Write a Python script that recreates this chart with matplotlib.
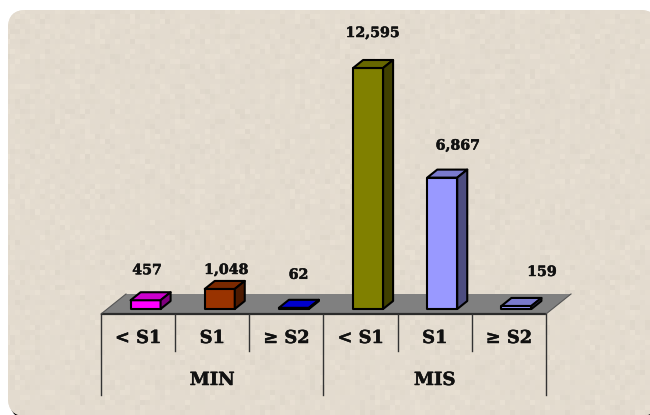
import numpy as np
import matplotlib
matplotlib.use("Agg")
import matplotlib.pyplot as plt
import matplotlib.patheffects as pe
from matplotlib.patches import FancyBboxPatch, Polygon

categories = ["< S1", "S1", "≥ S2", "< S1", "S1", "≥ S2"]
groups = ["MIN", "MIS"]
values = [457, 1048, 62, 12595, 6867, 159]
value_labels = ["457", "1,048", "62", "12,595", "6,867", "159"]
front_colors = ["#FF00FF", "#993300", "#0000CC", "#808000", "#9999FF", "#9999FF"]
top_colors = ["#CC00CC", "#7A2900", "#0000CC", "#666600", "#7A7ACC", "#7A7ACC"]
side_colors = ["#800080", "#4D1A00", "#000066", "#404000", "#4D4D80", "#4D4D80"]
label_offsets_px = [(1, 30), (6, 19), (4, 33), (4, 35), (15, 32), (25, 34)]

W, H = 650, 415
FONT = "DejaVu Serif"
heavy = [pe.withStroke(linewidth=0.35, foreground="#111111")]
fig = plt.figure(figsize=(W / 100, H / 100), dpi=100, facecolor="white")

# background card with a paper-like texture
bg = fig.add_axes([0, 0, 1, 1], zorder=0)
bg.set_xlim(0, W)
bg.set_ylim(H, 0)
bg.axis("off")
bg.add_patch(FancyBboxPatch((10, 13), 648, 406, boxstyle="round,pad=0,rounding_size=18",
                            fc="black", ec="none", zorder=0))
card = FancyBboxPatch((8, 10), 650, 406, boxstyle="round,pad=0,rounding_size=18",
                      fc="#E4DCCE", ec="none", zorder=0.5)
bg.add_patch(card)
yy, xx = np.mgrid[0:H // 5 + 1, 0:W // 5 + 1]
h = np.sin(xx * 12.9898 + yy * 78.233) * 43758.5453
h = h - np.floor(h)
tex = 0.893 + (h - 0.5) ** 3 * 0.16
im = bg.imshow(np.dstack([tex, tex * 0.965, tex * 0.91]), extent=(0, W + 5, H + 5, 0),
               interpolation="nearest", zorder=1, aspect="auto")
im.set_clip_path(card)
bg.set_xlim(0, W)
bg.set_ylim(H, 0)

# chart axes: x = category slots, y = values
x_left, x_right, y_base, y_top = 101, 546, 309, 68
ax = fig.add_axes([x_left / W, 1 - y_base / H, (x_right - x_left) / W, (y_base - y_top) / H], zorder=2)
ax.set_xlim(0, len(categories))
ax.set_ylim(0, max(values))
ax.axis("off")
px = len(categories) / (x_right - x_left)
py = max(values) / (y_base - y_top)

floor_front, floor_back = -5 * py, 15 * py
depth = 25 * px
ax.add_patch(Polygon([(0, floor_front), (len(categories), floor_front),
                      (len(categories) + depth, floor_back), (depth, floor_back)],
                     fc="#808080", ec="none", clip_on=False, zorder=1))
ax.plot([0, len(categories)], [floor_front, floor_front], color="#2B2B2B", lw=1.6,
        clip_on=False, zorder=2, solid_capstyle="butt")
ax.plot([0, depth], [floor_front, floor_back], color="#555555", lw=0.8, clip_on=False, zorder=2)
ax.plot([len(categories), len(categories) + depth], [floor_front, floor_back],
        color="#555555", lw=0.8, clip_on=False, zorder=2)

# axis table
short_bottom, long_bottom = -42 * py, -86 * py
for i in range(len(categories) + 1):
    bottom = long_bottom if i % 3 == 0 else short_bottom
    ax.plot([i, i], [floor_front, bottom], color="#333333", lw=1.0, clip_on=False, zorder=2)
for i, c in enumerate(categories):
    ax.text(i + 0.5, -29 * py, c, ha="center", va="center", family=FONT, weight="bold",
            fontsize=12.8, color="#111111", clip_on=False, path_effects=heavy)
for g, name in enumerate(groups):
    ax.text(3 * g + 1.5, -71 * py, name, ha="center", va="center", family=FONT, weight="bold",
            fontsize=13, color="#111111", clip_on=False, path_effects=heavy)

# 3-D bars
bar_w, dx, dy = 30 * px, 10 * px, 8 * py
for i, v in enumerate(values):
    x0 = i + 0.5 + 7.5 * px - bar_w / 2
    x1 = x0 + bar_w
    kw = dict(ec="black", lw=1.5, joinstyle="round", clip_on=False, zorder=3)
    ax.add_patch(Polygon([(x0, 0), (x1, 0), (x1, v), (x0, v)], fc=front_colors[i], **kw))
    ax.add_patch(Polygon([(x0, v), (x1, v), (x1 + dx, v + dy), (x0 + dx, v + dy)], fc=top_colors[i], **kw))
    ax.add_patch(Polygon([(x1, 0), (x1 + dx, dy), (x1 + dx, v + dy), (x1, v)], fc=side_colors[i], **kw))
    ox, oy = label_offsets_px[i]
    ax.annotate(value_labels[i], (i + 0.5 + 8 * px, v), xytext=(ox * 0.72, oy * 0.72),
                textcoords="offset points", ha="center", va="center", family=FONT,
                weight="bold", fontsize=10.2, color="#111111", annotation_clip=False,
                path_effects=heavy)

fig.savefig("out.png", dpi=100, facecolor="white")
